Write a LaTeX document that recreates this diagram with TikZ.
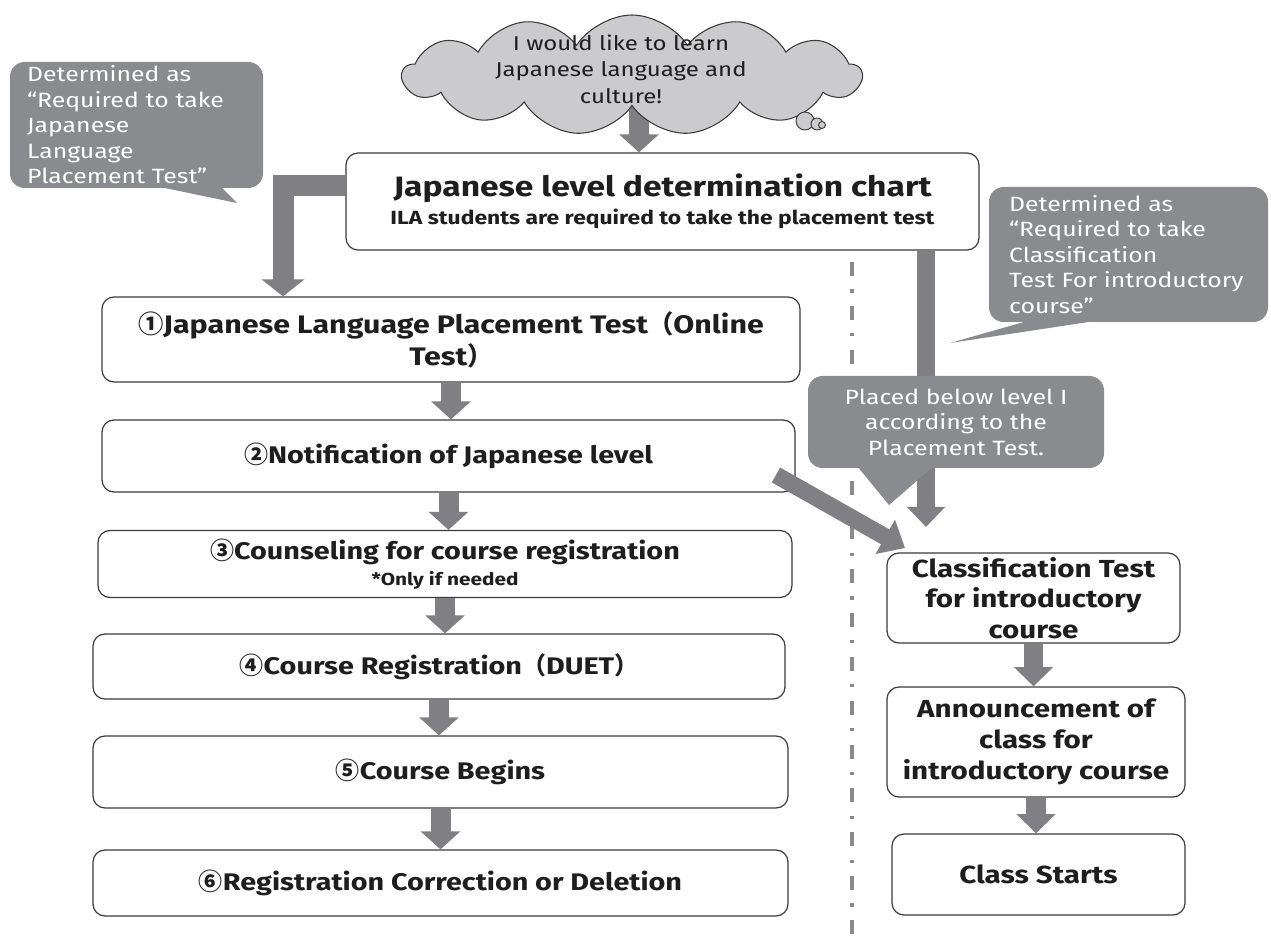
\documentclass[tikz,border=0pt]{standalone}
\usepackage{fontspec}
\setmainfont{Fira Sans}[FakeStretch=1.2]
\newfontfamily\cjkfnt{Noto Sans CJK JP}
\usetikzlibrary{shapes.symbols,arrows.meta,calc}
\definecolor{calloutgray}{HTML}{8A8B8F}
\definecolor{arrowgray}{HTML}{808084}
\definecolor{cloudgray}{HTML}{CBCBCD}
\definecolor{boxline}{HTML}{3A3A3A}
\definecolor{txt}{HTML}{1E1E1E}
\definecolor{sepgray}{HTML}{8A8A8A}
\newcommand{\cjkch}[1]{{\cjkfnt #1}}
\pgfdeclarelayer{bg}
\pgfsetlayers{bg,main}
\tikzset{
  flowbox/.style={draw=boxline, line width=0.9pt, rounded corners=9pt, fill=white,
    align=center, inner sep=0pt, text=txt, font=\bfseries\fontsize{18}{24}\selectfont},
  callout/.style={fill=calloutgray, rounded corners=11pt, text=white, inner sep=0pt,
    font=\fontsize{15.5}{19.1}\selectfont},
  bigarrow/.style={draw=arrowgray, line width=15pt, line join=miter,
    -{Triangle[width=29pt,length=13.5pt]}},
  rarrow/.style={draw=arrowgray, line width=14.5pt,
    -{Triangle[width=28.5pt,length=14.5pt]}},
  dashdotline/.style={draw=sepgray, line width=2.4pt,
    dash pattern=on 10.5pt off 10pt on 2.4pt off 10pt}
}
\begin{document}
\begin{tikzpicture}[x=0.75pt,y=-0.75pt]
\useasboundingbox (0,0) rectangle (1271,944);

% cloud
\node[cloud, cloud puffs=13, cloud puff arc=115, aspect=3.7, draw=boxline, fill=cloudgray,
  line width=0.8pt, minimum width=344pt, minimum height=90pt, inner sep=0pt] (cloud) at (632,75) {};
\node[align=center, text=txt, font=\fontsize{15}{20}\selectfont] (cloudtext) at (621,69)
  {I would like to learn\\Japanese language and\\culture!};
\draw[boxline, line width=0.7pt, fill=cloudgray] (805,121) circle [radius=9];
\draw[boxline, line width=0.7pt, fill=cloudgray] (817,124) circle [radius=6];
\draw[boxline, line width=0.7pt, fill=cloudgray] (822,125) circle [radius=3.5];

% chart box
\node[flowbox, minimum width=474.75pt, minimum height=72.75pt] (chart) at (662.5,201.5)
  {\fontsize{21}{24}\selectfont Japanese level determination chart\\[-3pt]
   \fontsize{14.3}{16}\selectfont ILA students are required to take the placement test};

% cloud -> chart arrow (behind cloud)
\coordinate (cx) at (639,0);
\begin{pgfonlayer}{bg}
\draw[bigarrow] (cloud.center -| cx) -- (chart.north -| cx);
\end{pgfonlayer}

% left flow boxes
\node[flowbox, minimum width=523.5pt, minimum height=63.75pt, font=\bfseries\fontsize{19}{24}\selectfont] (b1) at (451,339.5)
  {\cjkch{①}Japanese Language Placement Test\cjkch{（}Online\\Test\cjkch{）}};
\node[flowbox, minimum width=519.75pt, minimum height=54pt] (b2) at (448.5,456)
  {\cjkch{②}Notification of Japanese level};
\node[flowbox, minimum width=520.5pt, minimum height=50.25pt] (b3) at (445,564)
  {\cjkch{③}Counseling for course registration\\[-5pt]
   {\fontsize{13}{14}\selectfont *Only if needed}};
\node[flowbox, minimum width=519pt, minimum height=48.75pt] (b4) at (439,666.5)
  {\cjkch{④}Course Registration\cjkch{（}DUET\cjkch{）}};
\node[flowbox, minimum width=521.25pt, minimum height=54pt] (b5) at (440.5,772)
  {\cjkch{⑤}Course Begins};
\node[flowbox, minimum width=521.25pt, minimum height=49.5pt] (b6) at (440.5,883)
  {\cjkch{⑥}Registration Correction or Deletion};

\draw[bigarrow] (b1.south) -- (b1.south |- b2.north);
\draw[bigarrow] (b2.south) -- (b2.south |- b3.north);
\draw[bigarrow] (b3.south) -- (b3.south |- b4.north);
\draw[bigarrow] (b4.south) -- (b4.south |- b5.north);
\draw[bigarrow] (b5.south) -- (b5.south |- b6.north);

% right flow boxes
\node[flowbox, minimum width=219.75pt, minimum height=67.5pt, font=\bfseries\fontsize{18.5}{23}\selectfont] (cls) at (1033.5,598)
  {Classification Test\\for introductory\\course};
\node[flowbox, minimum width=223.5pt, minimum height=82.5pt, font=\bfseries\fontsize{18.5}{23}\selectfont] (ann) at (1036,742)
  {Announcement of\\class for\\introductory course};
\node[flowbox, minimum width=219.75pt, minimum height=60.75pt, font=\bfseries\fontsize{18.5}{23}\selectfont] (cst) at (1038.5,874.5)
  {Class Starts};
\draw[rarrow] (cls.south) -- (cls.south |- ann.north);
\draw[rarrow] (ann.south) -- (ann.south |- cst.north);

% dash-dot separator
\coordinate (dtop) at (852,262);
\coordinate (dbot) at (852,944);
\draw[dashdotline] (dtop) -- (dbot);

% left callout
\node[callout, minimum width=189.75pt, minimum height=94.5pt, text width=164pt, align=left] (lcall) at (136.5,125)
  {Determined as\\“Required to take\\Japanese\\Language\\Placement Test”};
\fill[calloutgray] (155,186) -- (220,186) -- (237,203) -- cycle;

% elbow arrow chart -> b1
\coordinate (ex) at (283,0);
\draw[draw=arrowgray, line width=15.75pt, line join=miter, -{Triangle[width=31.5pt,length=12.75pt]}]
  ($(chart.west)+(0,-16)$) -| (b1.north -| ex);

% right vertical arrow chart -> classification
\coordinate (rv) at (926,0);
\coordinate (rvend) at (926,527);
\draw[draw=arrowgray, line width=13.5pt, -{Triangle[width=27.75pt,length=15pt]}]
  (chart.south -| rv) -- (rvend);

% right top callout
\node[callout, minimum width=209.25pt, minimum height=101.25pt, text width=179pt, align=left] (rcall) at (1128.5,254.5)
  {Determined as\\“Required to take\\Classification\\Test For introductory\\course”};
\fill[calloutgray] (1038,318) -- (1115,318) -- (950,343) -- cycle;

% middle callout
\node[callout, minimum width=222pt, minimum height=69pt, align=center] (mcall) at (956,422)
  {Placed below level I\\according to the\\Placement Test.};
\fill[calloutgray] (857,466) -- (934,466) -- (889,505) -- cycle;

% diagonal arrow from b2 to classification
\coordinate (dstart) at (776,475);
\coordinate (dend) at (905,548);
\draw[draw=arrowgray, line width=12.75pt, -{Triangle[width=28.5pt,length=17pt]}]
  (dstart) -- (dend);
\end{tikzpicture}
\end{document}
